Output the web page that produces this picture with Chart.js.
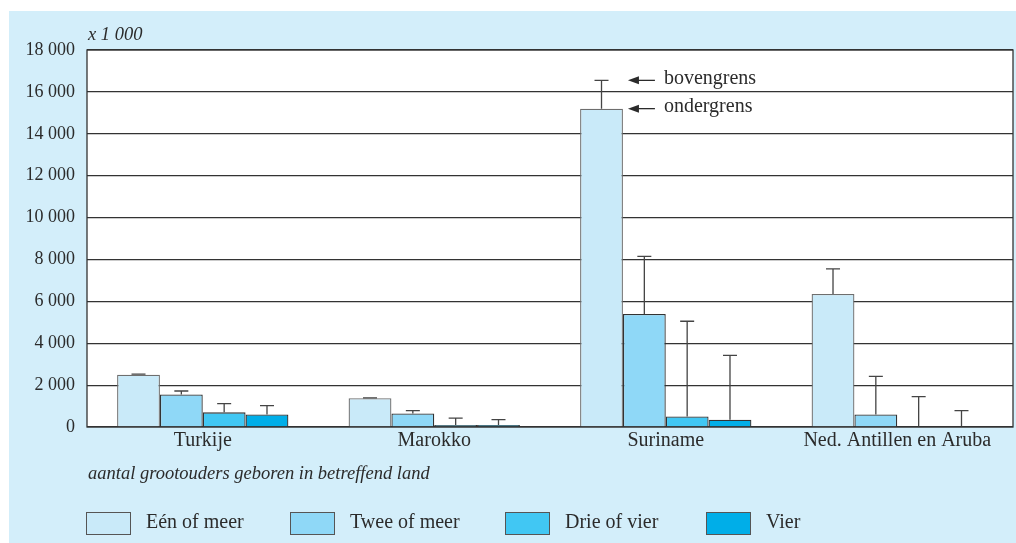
<!DOCTYPE html>
<html>
<head>
<meta charset="utf-8">
<script src="https://cdn.jsdelivr.net/npm/chart.js@4.4.1/dist/chart.umd.min.js"></script>
<style>
    body { margin: 0; background: #fff; font-family: "Liberation Serif", serif; color: #2b2b2b; }
    #panel { position: absolute; left: 9px; top: 11px; width: 1007px; height: 532px; background: #d3eefa; }
    #wrap { position: absolute; left: 0; top: 0; width: 1016px; height: 543px; }
    .note { position: absolute; font-style: italic; font-size: 18.5px; }
    #legend-div ul { list-style: none; margin: 0; padding: 0; }
    #legend-div li { position: absolute; top: 509px; font-size: 20px; line-height: 24px; white-space: nowrap; }
    #legend-div span { display: inline-block; width: 45px; height: 23px; border: 1px solid #555; vertical-align: middle; margin-right: 15px; box-sizing: border-box; }
</style>
</head>
<body>
<div id="panel"></div>
<div id="wrap"><canvas id="barChartCanvas" width="1016" height="543"></canvas></div>
<div class="note" style="left:88px; top:24px;">x 1 000</div>
<div class="note" style="left:88px; top:463px;">aantal grootouders geboren in betreffend land</div>
<div id="legend-div"></div>
<script>
let landen = ['Turkije', 'Marokko', 'Suriname', 'Ned. Antillen en Aruba'];
let reeksen = ['Eén of meer', 'Twee of meer', 'Drie of vier', 'Vier'];
let kleuren = ['#c9eaf9', '#8fd8f7', '#41c7f3', '#00aee8'];

// ondergrens (bar) per reeks
let eenOfMeer = [2500, 1370, 15200, 6350];
let tweeOfMeer = [1550, 650, 5400, 600];
let drieOfVier = [700, 100, 500, 0];
let vier = [600, 100, 350, 0];

// bovengrens (foutbalk) per reeks
let eenOfMeerBoven = [2520, 1390, 16550, 7550];
let tweeOfMeerBoven = [1720, 780, 8150, 2420];
let drieOfVierBoven = [1120, 420, 5050, 1450];
let vierBoven = [1020, 350, 3420, 780];

let yTicks = [0, 2000, 4000, 6000, 8000, 10000, 12000, 14000, 16000, 18000];

let waarden = [eenOfMeer, tweeOfMeer, drieOfVier, vier];
let bovengrens = [eenOfMeerBoven, tweeOfMeerBoven, drieOfVierBoven, vierBoven];

let barChartData = {
    labels: landen,
    datasets: reeksen.map(function (naam, i) {
        return {
            label: naam,
            data: waarden[i],
            boven: bovengrens[i],
            backgroundColor: kleuren[i],
            borderColor: i == 0 ? '#6e6e6e' : '#333',
            borderWidth: 1.3,
            borderSkipped: 'bottom',
            categoryPercentage: 0.74,
            barPercentage: 1.0
        };
    })
};

let plotArea = {
    id: 'plotArea',
    beforeDraw: function (chart) {
        let a = chart.chartArea, ctx = chart.ctx;
        ctx.save();
        ctx.fillStyle = '#fff';
        ctx.fillRect(a.left, a.top, a.right - a.left, a.bottom - a.top);
        ctx.restore();
    },
    afterDatasetsDraw: function (chart) {
        let a = chart.chartArea, ctx = chart.ctx, y = chart.scales.y;
        ctx.save();
        // foutbalken
        ctx.strokeStyle = '#444';
        ctx.lineWidth = 1.3;
        chart.data.datasets.forEach(function (ds, di) {
            chart.getDatasetMeta(di).data.forEach(function (bar, i) {
                let y0 = y.getPixelForValue(ds.data[i]);
                let y1 = y.getPixelForValue(ds.boven[i]);
                ctx.beginPath();
                ctx.moveTo(bar.x, y0);
                ctx.lineTo(bar.x, y1);
                ctx.moveTo(bar.x - 7, y1);
                ctx.lineTo(bar.x + 7, y1);
                ctx.stroke();
            });
        });
        // rand van het plotvlak
        ctx.strokeStyle = '#333';
        ctx.lineWidth = 1.3;
        ctx.strokeRect(a.left, a.top, a.right - a.left, a.bottom - a.top);

        // pijlen bij Suriname
        let bar = chart.getDatasetMeta(0).data[2];
        let x0 = bar.x + bar.width / 2 + 5;
        let labels = [['bovengrens', eenOfMeerBoven[2]], ['ondergrens', eenOfMeer[2]]];
        ctx.fillStyle = '#2b2b2b';
        ctx.strokeStyle = '#2b2b2b';
        ctx.font = '20px "Liberation Serif", serif';
        ctx.textBaseline = 'middle';
        labels.forEach(function (l) {
            let py = y.getPixelForValue(l[1]);
            ctx.beginPath();
            ctx.moveTo(x0 + 10, py);
            ctx.lineTo(x0 + 27, py);
            ctx.stroke();
            ctx.beginPath();
            ctx.moveTo(x0, py);
            ctx.lineTo(x0 + 11, py - 4);
            ctx.lineTo(x0 + 11, py + 4);
            ctx.closePath();
            ctx.fill();
            ctx.fillText(l[0], x0 + 36, py - 2);
        });
        ctx.restore();
    }
};

let barChartDraw = function () {
    let ctx = document.getElementById('barChartCanvas').getContext('2d');

    window.barChart = new Chart(ctx, {
        type: 'bar',
        data: barChartData,
        plugins: [plotArea],
        options: {
            responsive: false,
            animation: false,
            layout: { padding: { left: 0, top: 50, right: 3, bottom: 0 } },
            plugins: {
                legend: { display: false },
                tooltip: { enabled: false }
            },
            scales: {
                x: {
                    grid: { display: false, drawTicks: false },
                    border: { display: false },
                    ticks: { color: '#2b2b2b', font: { family: 'Liberation Serif', size: 20 }, padding: 2 },
                    afterFit: function (scale) { scale.height = 116; }
                },
                y: {
                    min: 0,
                    max: 18000,
                    afterBuildTicks: function (scale) {
                        scale.ticks = yTicks.map(function (v) { return { value: v }; });
                    },
                    grid: { color: '#333', lineWidth: 1.2, drawTicks: false },
                    border: { display: false },
                    ticks: {
                        color: '#2b2b2b',
                        font: { family: 'Liberation Serif', size: 18 },
                        padding: 12,
                        callback: function (v) {
                            return String(v).replace(/\B(?=(\d{3})+(?!\d))/g, ' ');
                        }
                    },
                    afterFit: function (scale) { scale.width = 87; }
                }
            }
        }
    });
};

let customLegend = function () {
    let ul = document.createElement('ul');
    let links = [86, 290, 505, 706];
    reeksen.forEach(function (label, index) {
        ul.innerHTML += `<li style="left:${links[index]}px"><span style="background-color: ${kleuren[index]};"></span>${label}</li>`;
    });
    return ul.outerHTML;
};

window.onload = function () {
    barChartDraw();
    document.getElementById('legend-div').innerHTML = customLegend();
};
</script>
</body>
</html>
